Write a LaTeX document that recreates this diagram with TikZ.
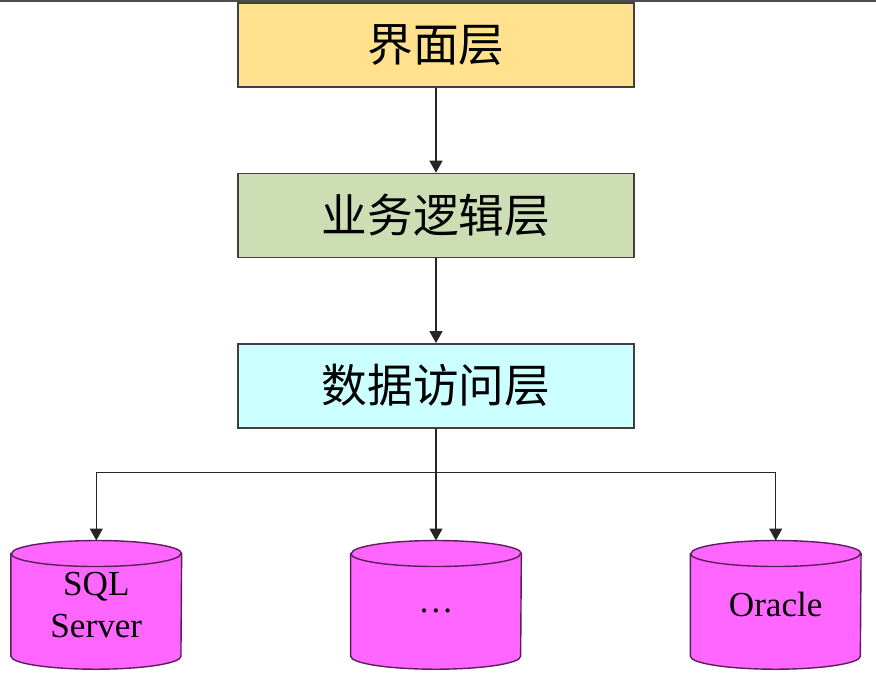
\documentclass[tikz,border=0pt]{standalone}
\usepackage{fontspec}
\setmainfont{Liberation Serif}
\newfontfamily\cjk{Noto Sans CJK SC}
\usetikzlibrary{positioning,calc,backgrounds,arrows.meta}
\definecolor{uiyellow}{RGB}{255,225,142}
\definecolor{bizgreen}{RGB}{206,222,180}
\definecolor{dalcyan}{RGB}{204,255,255}
\definecolor{dbpink}{RGB}{255,102,255}
\definecolor{dbedge}{RGB}{90,30,90}
\tikzset{
    layer/.style={draw=black!75,line width=0.8pt,minimum width=7.92cm,minimum height=1.68cm,
        inner sep=0pt,font=\cjk\fontsize{26}{30}\selectfont},
    db/.style={minimum width=3.4cm,minimum height=2.56cm,inner sep=0pt,align=center,
        font=\fontsize{20}{24}\selectfont},
    dbbody/.style={draw=dbedge,line width=0.8pt,fill=dbpink},
    link/.style={-{Triangle[length=0.24cm,width=0.26cm]},line width=0.8pt,black!85}
}
\begin{document}
\begin{tikzpicture}
            \useasboundingbox (0,0) rectangle (17.52,-13.72);
            \draw [black!70,line width=1.2pt] (0,-0.01) -- (17.52,-0.01);

            \node [layer,fill=uiyellow] (ui) at (8.72,-0.9) {界面层};
            \node [layer,fill=bizgreen,below=1.7cm of ui] (biz) {业务逻辑层};
            \node [layer,fill=dalcyan,below=1.7cm of biz] (dal) {数据访问层};

            \node [db,below=2.24cm of dal] (other) {\raisebox{-1ex}{\dots}};
            \node [db,left=3.38cm of other] (sqlserver) {SQL\\Server};
            \node [db,right=3.38cm of other] (oracle) {Oracle};

            \begin{scope}[on background layer]
                \foreach \d in {sqlserver,other,oracle} {
                    \draw [dbbody] ($(\d.north west)+(0,-0.26)$) -- ($(\d.south west)+(0,0.26)$)
                        arc[start angle=180,end angle=360,x radius=1.7cm,y radius=0.26cm]
                        -- ($(\d.north east)+(0,-0.26)$)
                        arc[start angle=0,end angle=180,x radius=1.7cm,y radius=0.26cm] -- cycle;
                    \draw [dbedge,line width=0.8pt] ($(\d.north west)+(0,-0.26)$)
                        arc[start angle=180,end angle=360,x radius=1.7cm,y radius=0.26cm];
                }
            \end{scope}

            \draw [link] (ui) -- (biz);
            \draw [link] (biz) -- (dal);
            \coordinate [below=0.88cm of dal.south] (split);
            \draw [line width=0.8pt,black!85] (dal.south) -- (split);
            \foreach \d in {sqlserver,other,oracle} {
                \draw [link] (split) -| (\d.north);
            }
        \end{tikzpicture}
\end{document}
